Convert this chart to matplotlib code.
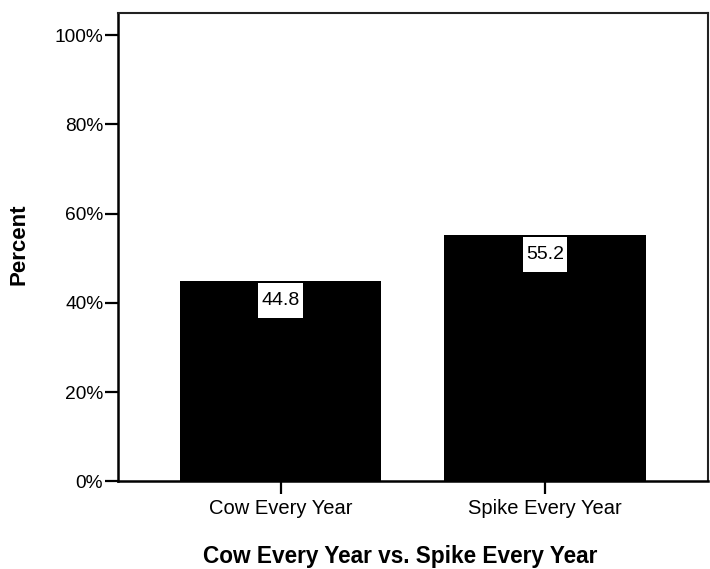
import matplotlib
matplotlib.use("Agg")
import matplotlib.pyplot as plt
from matplotlib.path import Path
from matplotlib.ticker import FuncFormatter

categories = ["Cow Every Year", "Spike Every Year"]
percents = [44.8, 55.2]
y_ticks = [0, 20, 40, 60, 80, 100]
x_label = "Cow Every Year vs. Spike Every Year"
y_label = "Percent"

plt.rcParams['font.family'] = ['Liberation Sans', 'DejaVu Sans']

fig = plt.figure(figsize=(7.10, 5.69), dpi=100)
ax = fig.add_axes([0.1658, 0.1538, 0.8314, 0.8239])

x = list(range(len(categories)))
ax.bar(x, percents, width=0.762, color='black', edgecolor='black', linewidth=0)

ax.set_xlim(-0.615, 1.615)
ax.set_ylim(0, 105)
ax.set_yticks(y_ticks)
ax.yaxis.set_major_formatter(FuncFormatter(lambda v, p: f"{int(v)}%"))
ax.set_xticks(x)
ax.set_xticklabels(categories)

PADX, PADY = 3.0, 9.0


def label_box(x0, y0, width, height, mutation_size):
    xa, ya = x0 - PADX, y0 - PADY
    xb, yb = x0 + width + PADX, y0 + height + PADY
    return Path([(xa, ya), (xb, ya), (xb, yb), (xa, yb), (xa, ya)],
                [Path.MOVETO, Path.LINETO, Path.LINETO, Path.LINETO, Path.CLOSEPOLY])


for i, v in enumerate(percents):
    ax.annotate(f"{v:.1f}", xy=(i, v), xytext=(0, -(2 + PADY) * 0.72), textcoords='offset points',
                ha='center', va='top', fontsize=14, color='black',
                bbox=dict(boxstyle=label_box, facecolor='white', edgecolor='none'))

for s in ['left', 'bottom']:
    ax.spines[s].set_linewidth(1.8)
    ax.spines[s].set_color('black')
for s in ['top', 'right']:
    ax.spines[s].set_linewidth(1.5)
    ax.spines[s].set_color('#222222')

ax.tick_params(axis='both', length=9.5, width=1.6, direction='out', colors='black')
ax.tick_params(axis='y', pad=1, labelsize=13.8)
ax.tick_params(axis='x', pad=3, labelsize=14.5)

ax.set_xlabel(x_label, fontsize=16.3, fontweight='bold', va='center')
ax.xaxis.set_label_coords(0.478, -0.160)
ax.set_ylabel(y_label, fontsize=16, fontweight='bold', va='center')
ax.yaxis.set_label_coords(-0.168, 0.507)

fig.savefig("out.png", dpi=100, facecolor='white')
